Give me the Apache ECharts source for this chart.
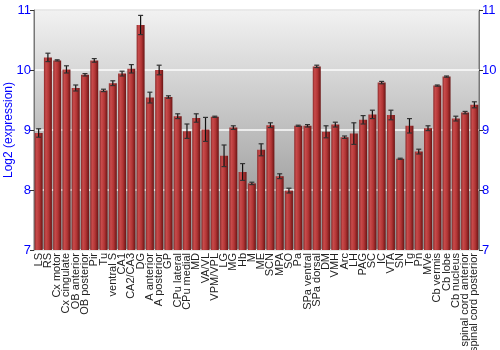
<!DOCTYPE html>
<html><head><meta charset="utf-8">
<script src="https://cdn.jsdelivr.net/npm/echarts@6/dist/echarts.min.js"></script>
<style>html,body{margin:0;padding:0;background:#fff}#c{width:500px;height:350px}</style>
</head><body><div id="c"></div>
<script>
const categories = ["LS","RS","Cx motor","Cx cingulate","OB anterior","OB posterior","Pir","Tu","ventral S","CA1","CA2/CA3","DG","A anterior","A posterior","GP","CPu lateral","CPu medial","MD","VA/VL","VPM/VPL","LG","MG","Hb","M","ME","SCN","MPA","SO","Pa","SPa ventral","SPa dorsal","DM","VMH","Arc","LH","PAG","SC","IC","VTA","SN","Tg","Pn","MVe","Cb vermis","Cb lobe","Cb nucleus","spinal cord anterior","spinal cord posterior"];
const values = [8.95,10.21,10.16,10.01,9.70,9.92,10.16,9.66,9.78,9.94,10.02,10.75,9.54,10.00,9.55,9.23,8.98,9.20,9.01,9.22,8.57,9.04,8.30,8.11,8.67,9.08,8.23,7.99,9.07,9.07,10.06,8.97,9.09,8.88,8.94,9.17,9.26,9.79,9.25,8.52,9.07,8.64,9.03,9.74,9.89,9.19,9.29,9.42];
const errors = [0.07,0.07,0.01,0.06,0.05,0.02,0.03,0.02,0.04,0.04,0.07,0.16,0.09,0.08,0.02,0.04,0.12,0.07,0.20,0.01,0.18,0.03,0.14,0.02,0.10,0.04,0.04,0.04,0.01,0.02,0.02,0.10,0.04,0.02,0.18,0.07,0.07,0.02,0.08,0.01,0.12,0.04,0.04,0.01,0.01,0.04,0.02,0.05];
const yTicks = [7,8,9,10,11];

const chart = echarts.init(document.getElementById('c'), null, {renderer:'canvas'});
const blue = '#0000ff';
const errData = values.map((v,i)=>[i, v-errors[i], v+errors[i]]);
const yCommon = {
  type:'value', min:yTicks[0], max:yTicks[yTicks.length-1], interval:1,
  axisLine:{show:true, lineStyle:{color:'#777', width:1}},
  axisTick:{show:true, length:4, lineStyle:{color:'#333'}},
  axisLabel:{color:blue, fontSize:13, fontFamily:'Liberation Sans, Arial, sans-serif', margin:3},
};
chart.setOption({
  animation:false,
  grid:{left:34, right:21, top:10, bottom:100, outerBoundsMode:'none', containLabel:false,
    show:true, borderColor:'#777', borderWidth:1,
    backgroundColor:new echarts.graphic.LinearGradient(0,0,0,1,[{offset:0,color:'#f2f2f2'},{offset:1,color:'#8a8a8a'}])},
  xAxis:{type:'category', data:categories,
    axisLine:{show:false}, axisTick:{show:false},
    axisLabel:{interval:0, rotate:90, fontSize:11, color:'#222', margin:3, fontFamily:'Liberation Sans, Arial, sans-serif'}},
  yAxis:[
    Object.assign({}, yCommon, {position:'left', name:'Log2 (expression)', nameLocation:'middle', nameGap:19,
      nameMoveOverlap:false,
      nameTextStyle:{color:blue, fontSize:12, fontFamily:'Liberation Sans, Arial, sans-serif'},
      splitLine:{show:true, lineStyle:{color:'rgba(255,255,255,0.7)', width:2}}}),
    Object.assign({}, yCommon, {position:'right', splitLine:{show:false}})
  ],
  series:[
    {type:'bar', data:values, barWidth:'86%', yAxisIndex:0,
      itemStyle:{color:new echarts.graphic.LinearGradient(0,0,1,0,[
        {offset:0,color:'#8c2a2a'},{offset:0.25,color:'#c84b4b'},{offset:0.6,color:'#b23535'},{offset:1,color:'#6a1414'}])}},
    {type:'custom', yAxisIndex:0, data:errData, z:5,
      renderItem:function(params, api){
        const x = api.value(0);
        const lo = api.coord([x, api.value(1)]);
        const hi = api.coord([x, api.value(2)]);
        const hw = 2.5;
        return {type:'group', children:[
          {type:'line', shape:{x1:lo[0],y1:lo[1],x2:hi[0],y2:hi[1]}, style:{stroke:'#111', lineWidth:1.2}},
          {type:'line', shape:{x1:lo[0]-hw,y1:lo[1],x2:lo[0]+hw,y2:lo[1]}, style:{stroke:'#333', lineWidth:1.2}},
          {type:'line', shape:{x1:hi[0]-hw,y1:hi[1],x2:hi[0]+hw,y2:hi[1]}, style:{stroke:'#333', lineWidth:1.2}}
        ]};
      }}
  ]
});
</script></body></html>
